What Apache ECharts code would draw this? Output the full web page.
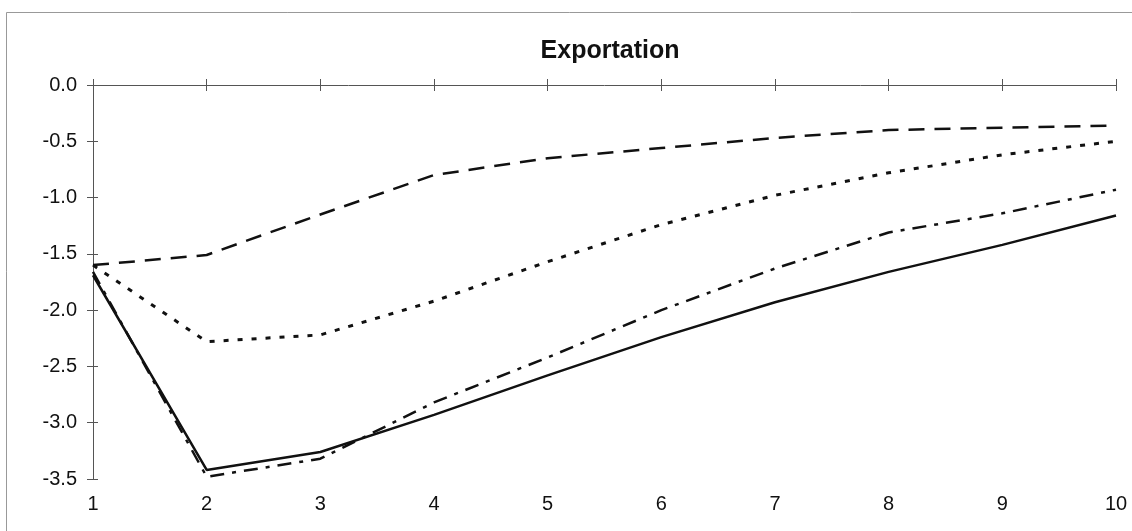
<!DOCTYPE html>
<html>
<head>
<meta charset="utf-8">
<script src="https://cdn.jsdelivr.net/npm/echarts@6/dist/echarts.min.js"></script>
<style>
  html, body { margin: 0; padding: 0; background: #fff; }
  #chart { width: 1132px; height: 531px; }
</style>
</head>
<body>
<div id="chart"></div>
<script>
// periods on the x axis
var periods = ['1', '2', '3', '4', '5', '6', '7', '8', '9', '10'];
// the four response paths
var dashedVals  = [-1.60, -1.51, -1.15, -0.80, -0.65, -0.56, -0.47, -0.40, -0.38, -0.36];
var dottedVals  = [-1.60, -2.28, -2.22, -1.92, -1.57, -1.24, -0.98, -0.78, -0.62, -0.50];
var dashDotVals = [-1.66, -3.48, -3.32, -2.82, -2.42, -2.00, -1.63, -1.31, -1.14, -0.93];
var solidVals   = [-1.69, -3.42, -3.26, -2.93, -2.58, -2.24, -1.93, -1.66, -1.42, -1.16];

var axisGrey = '#555';
var fontName = 'Liberation Sans, Arial, sans-serif';

function line(name, vals, type, w) {
    return {
        name: name,
        type: 'line',
        data: vals,
        symbol: 'none',
        xAxisIndex: 0,
        yAxisIndex: 0,
        lineStyle: { color: '#111', width: w || 2.5, type: type }
    };
}

var myChart = echarts.init(document.getElementById('chart'));
myChart.setOption({
    animation: false,
    backgroundColor: '#fff',
    title: {
        text: 'Exportation',
        left: 605, top: 34, textAlign: 'center',
        textStyle: { fontFamily: fontName, fontSize: 25, fontWeight: 'bold', color: '#111' }
    },
    grid: { left: 93, right: 16, top: 85, bottom: 52 },
    xAxis: [
        { // labels at the bottom
            type: 'category', data: periods, boundaryGap: false, position: 'bottom',
            axisLine: { show: false }, axisTick: { show: false },
            axisLabel: { margin: 15, fontFamily: fontName, fontSize: 20, color: '#111' }
        },
        { // line at zero with upward ticks
            type: 'category', data: periods, boundaryGap: false, position: 'top',
            axisLine: { onZero: false, lineStyle: { color: axisGrey, width: 1 } },
            axisTick: { inside: false, length: 6, lineStyle: { color: axisGrey } },
            axisLabel: { show: false }
        },
        { // downward half of the ticks
            type: 'category', data: periods, boundaryGap: false, position: 'top',
            axisLine: { show: false },
            axisTick: { inside: true, length: 6, lineStyle: { color: axisGrey } },
            axisLabel: { show: false }
        }
    ],
    yAxis: [
        {
            type: 'value', min: -3.5, max: 0, interval: 0.5,
            axisLine: { show: true, lineStyle: { color: axisGrey, width: 1 } },
            axisTick: { show: true, inside: false, length: 6, lineStyle: { color: axisGrey } },
            axisLabel: {
                margin: 16, fontFamily: fontName, fontSize: 20, color: '#111',
                formatter: function (v) { return v.toFixed(1); }
            },
            splitLine: { show: false }
        },
        {
            type: 'value', min: -3.5, max: 0, interval: 0.5, position: 'left',
            axisLine: { show: false },
            axisTick: { show: true, inside: true, length: 5, lineStyle: { color: axisGrey } },
            axisLabel: { show: false },
            splitLine: { show: false }
        }
    ],
    graphic: [
        { type: 'line', shape: { x1: 6.5, y1: 12.5, x2: 1132, y2: 12.5 }, style: { stroke: '#999', lineWidth: 1 } },
        { type: 'line', shape: { x1: 6.5, y1: 12.5, x2: 6.5, y2: 531 }, style: { stroke: '#999', lineWidth: 1 } }
    ],
    series: [
        line('dashed', dashedVals, [16, 10]),
        line('dotted', dottedVals, [5, 9], 3),
        line('dashdot', dashDotVals, [14, 8, 4, 8]),
        line('solid', solidVals, 'solid')
    ]
});
</script>
</body>
</html>
